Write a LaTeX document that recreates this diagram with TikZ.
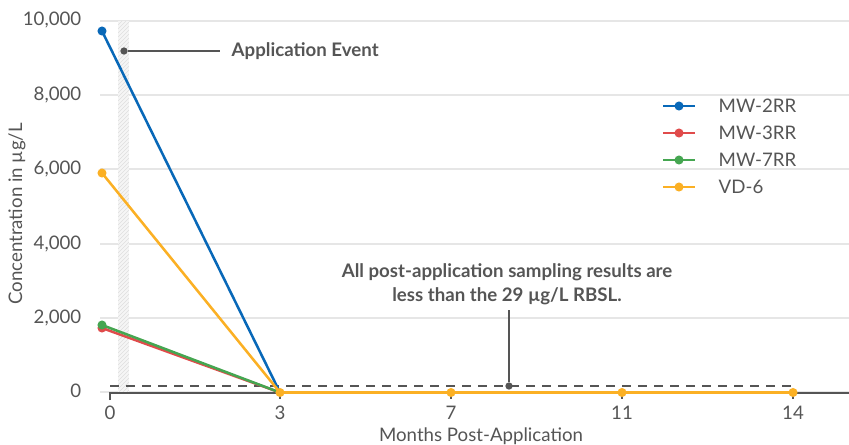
\documentclass[tikz,border=0pt]{standalone}
\usepackage{fontspec}
\setmainfont{Lato}
\definecolor{txt}{HTML}{555555}
\definecolor{grid}{HTML}{E6E6E6}
\definecolor{cblue}{HTML}{0868B8}
\definecolor{cred}{HTML}{E04B4B}
\definecolor{cgreen}{HTML}{45A651}
\definecolor{corange}{HTML}{FBB024}
\definecolor{dark}{HTML}{555555}
\begin{document}
\begin{tikzpicture}[x=0.75pt,y=-0.75pt,
  ticklab/.style={text=txt,font=\fontsize{14}{16}\selectfont},
  leglab/.style={text=txt,font=\fontsize{14}{16}\selectfont,anchor=west},
  annot/.style={text=txt,font=\bfseries\fontsize{14}{18}\selectfont},
  series/.style={line width=1.9pt,line join=round},
  dot/.style={circle,fill=#1,inner sep=0pt,minimum size=6.8pt},
]
\useasboundingbox (0,0) rectangle (849,444);
% gridlines
\foreach \yy in {21,95,169,244,318,392}
  \draw[grid,line width=1pt] (100,\yy) -- (849,\yy);
% hatched band
\fill[gray!8] (118,21) rectangle (129,392);
\begin{scope}
\clip (118,21) rectangle (129,392);
\foreach \k in {0,4,...,400}
  \draw[gray!25,line width=0.5pt] (118,21+\k) -- (129,10+\k);
\end{scope}
% y tick labels
\node[ticklab,anchor=east] (y10) at (86,20) {10,000};
\node[ticklab,anchor=east] (y8) at (86,95) {8,000};
\node[ticklab,anchor=east] (y6) at (86,169) {6,000};
\node[ticklab,anchor=east] (y4) at (86,244) {4,000};
\node[ticklab,anchor=east] (y2) at (86,318) {2,000};
\node[ticklab,anchor=east] (y0) at (86,391) {0};
% x axis
\draw[dark,line width=0.8pt] (110,400) -- (110,393) -- (849,393);
\foreach \xx in {280,451,622,793}
  \draw[dark,line width=0.8pt] (\xx,393) -- (\xx,399);
\node[ticklab] (x0) at (110,413) {0};
\node[ticklab] (x3) at (280,413) {3};
\node[ticklab] (x7) at (451,413) {7};
\node[ticklab] (x11) at (622,413) {11};
\node[ticklab] (x14) at (793,413) {14};
% axis titles
\node[text=txt,font=\fontsize{14}{16}\selectfont] (xt) at (481,436) {Months Post-Application};
\node[text=txt,font=\fontsize{14}{16}\selectfont,rotate=90] (yt) at (17,214) {Concentration in µg/L};
% dashed RBSL line
\draw[dark,line width=1.2pt,dash pattern=on 7pt off 5pt] (110,386) -- (795,386);
% data coordinates
\coordinate (b0) at (102,31);
\coordinate (r0) at (102,328);
\coordinate (g0) at (102,325);
\coordinate (o0) at (102,173);
\coordinate (p3) at (280,392.5);
\coordinate (p7) at (451,392.5);
\coordinate (p11) at (622,392.5);
\coordinate (p14) at (793,392.5);
% series
\draw[series,cblue] (b0) -- (p3) -- (p7) -- (p11) -- (p14);
\node[dot=cblue] at (b0) {};
\draw[series,cred] (r0) -- (p3) -- (p7) -- (p11) -- (p14);
\node[dot=cred] at (r0) {};
\draw[series,cgreen] (g0) -- (p3) -- (p7) -- (p11) -- (p14);
\node[dot=cgreen] at (g0) {};
\draw[series,corange] (o0) -- (p3) -- (p7) -- (p11) -- (p14);
\node[dot=corange] at (o0) {};
\foreach \p in {p3,p7,p11,p14} \node[dot=corange] at (\p) {};
% application event annotation
\node[dot=dark,minimum size=5.5pt] (ae) at (124,51) {};
\node[annot,anchor=west] (aet) at (227,51) {Application Event};
\draw[dark,line width=1.2pt] (ae) -- (220,51);
% RBSL annotation
\node[annot,align=center] (rb) at (507,284) {All post-application sampling results are\\less than the 29 µg/L RBSL.};
\node[dot=dark,minimum size=5.5pt] (rbd) at (509,386) {};
\draw[dark,line width=1.2pt] (509,310) -- (rbd);
% legend
\foreach \c/\yy/\lab in {cblue/106/MW-2RR,cred/133/MW-3RR,cgreen/160/MW-7RR,corange/187/VD-6}{
  \draw[\c,line width=1.9pt] (663,\yy) -- (695,\yy);
  \node[dot=\c] at (679,\yy) {};
  \node[leglab] at (714,\yy) {\lab};
}
\end{tikzpicture}
\end{document}
